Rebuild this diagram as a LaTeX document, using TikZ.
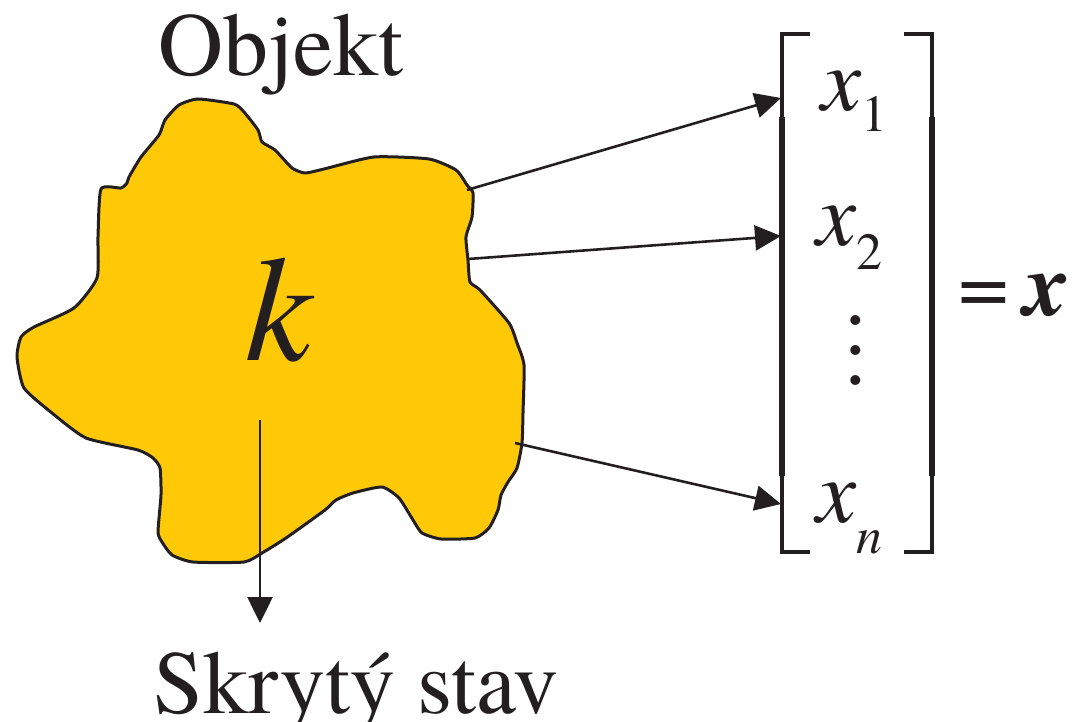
\documentclass[tikz,border=0pt]{standalone}
\usepackage{fontspec}
\setmainfont{texgyretermes}[Extension=.otf, UprightFont=*-regular, ItalicFont=*-italic, BoldFont=*-bold, BoldItalicFont=*-bolditalic]
\usetikzlibrary{positioning,arrows.meta}
\definecolor{camarillo}{HTML}{FFC907}
\definecolor{ctinta}{HTML}{231F20}
\tikzset{
  mancha/.style={draw=ctinta, fill=camarillo, line width=3pt, line join=round},
  flecha/.style={-{Triangle[length=26pt,width=25pt]}, line width=2.6pt, draw=ctinta},
  rotulo/.style={font=\fontsize{90}{100}\selectfont, text=ctinta, inner sep=0pt},
  comp/.style={font=\fontsize{90}{100}\selectfont\itshape, text=ctinta, inner sep=0pt},
  punto/.style={font=\fontsize{90}{100}\selectfont, text=ctinta, inner sep=0pt},
  corchete/.style={line width=5.5pt, draw=ctinta, line cap=butt, line join=miter},
  corchetep/.style={line width=4.5pt, draw=ctinta, line cap=butt, line join=miter},
}
\newcommand{\subi}[2]{\raisebox{-#1pt}{\fontsize{52}{56}\selectfont\upshape #2}}
\newcommand{\subn}[2]{\raisebox{-#1pt}{\fontsize{52}{56}\selectfont #2}}

\begin{document}
\begin{tikzpicture}[x=1pt, y=-1pt]
  \useasboundingbox (0,0) rectangle (1082,722);
  % objeto
  \draw[mancha] plot[smooth cycle, tension=0.35] coordinates {
    (198,99) (234,104) (244,112) (258,130) (262,142) (275,150) (292,168)
    (305,173) (324,169) (374,157) (429,159) (456,170) (467,185) (473,193)
    (472,217) (466,237) (468,260) (470,282) (480,290) (509,323) (517,343)
    (524,365) (523,413) (522,443) (517,468) (508,482) (501,495) (498,510)
    (489,528) (475,538) (441,539) (422,533) (413,520) (399,498) (382,487)
    (353,493) (336,500) (325,510) (286,538) (262,553) (244,562) (193,562)
    (172,555) (162,542) (158,532) (161,495) (160,468) (153,458) (138,450)
    (86,438) (52,413) (24,388) (17,357) (21,337) (34,327) (74,308)
    (97,278) (98,237) (101,189) (121,188) (127,183) (129,177) (141,157)
    (159,135) (165,120) (179,105)};
  \node[rotulo, anchor=base west] (objekt) at (158,76) {Objekt};
  \node[comp, font=\fontsize{150}{160}\selectfont\itshape, anchor=base west] (k) at (245,360) {k};
  \node[rotulo, anchor=base west] (estado) at (153,713) {Skrytý stav};
  % vector
  \draw[corchetep] (810,34) -- (782,34) -- (782,119);
  \draw[corchete] (782,117) -- (782,476);
  \draw[corchetep] (782,474) -- (782,552) -- (810,552);
  \draw[corchetep] (904,34) -- (932,34) -- (932,119);
  \draw[corchete] (932,117) -- (932,476);
  \draw[corchetep] (932,474) -- (932,552) -- (904,552);
  \node[comp, anchor=base west] (x1) at (821,111) {x\subi{21}{1}};
  \node[comp, anchor=base west] (x2) at (816,246) {x\subi{24}{2}};
  \node[punto] (p1) at (856,320) {.};
  \node[punto] (p2) at (856,350) {.};
  \node[punto] (p3) at (856,380) {.};
  \node[comp, anchor=base west] (xn) at (816,522) {x\subn{31}{n}};
  \node[rotulo, anchor=base west] (igual) at (958,315) {=};
  \node[comp, font=\fontsize{90}{100}\selectfont\bfseries\itshape, anchor=base west] (xv) at (1024,315) {x};
  % conexiones
  \coordinate (s1) at (467,190);
  \coordinate (s2) at (468,259);
  \coordinate (s3) at (515,443);
  \coordinate (sk) at (260,420);
  \coordinate (t1) at (781,98);
  \coordinate (t2) at (781,236);
  \coordinate (t3) at (781,504);
  \coordinate (tk) at (260,623);
  \draw[flecha] (s1) -- (t1);
  \draw[flecha] (s2) -- (t2);
  \draw[flecha] (s3) -- (t3);
  \draw[flecha] (sk) -- (tk);
\end{tikzpicture}
\end{document}
